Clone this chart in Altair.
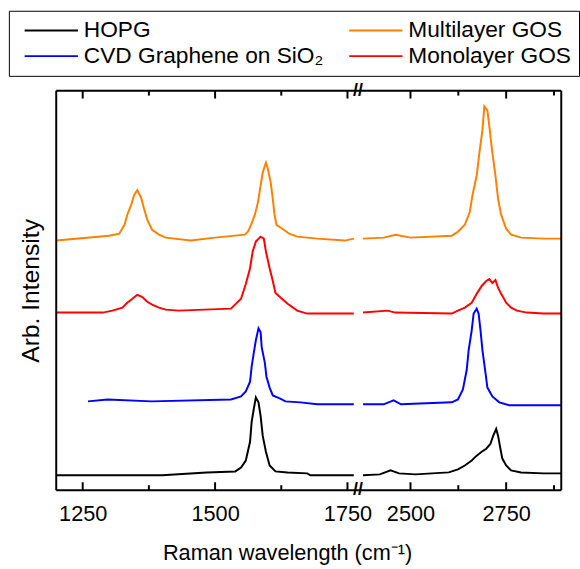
import altair as alt
import pandas as pd

SERIES = ["HOPG", "CVD Graphene on SiO₂", "Multilayer GOS", "Monolayer GOS"]
COLORS = ["#000000", "#0000FF", "#FF8000", "#FF0000"]

# ---- left segment (cm-1 1200-1770) ----
HOPG_L_X = [1200, 1300, 1400, 1484, 1538, 1549, 1558, 1566, 1569, 1573, 1577, 1582, 1586, 1590, 1596, 1603, 1614, 1637, 1674, 1680, 1762]
HOPG_L_Y = [15, 15, 15, 18, 19, 23, 30, 49, 69, 82, 94, 89, 75, 55, 39, 25, 19, 18, 17, 15, 15]

CVD_L_X = [1260, 1297, 1380, 1530, 1549, 1558, 1566, 1569, 1573, 1577, 1582, 1586, 1588, 1594, 1597, 1603, 1609, 1622, 1633, 1661, 1693, 1762]
CVD_L_Y = [90, 92, 90, 92, 95, 100, 110, 125, 139, 152, 164, 160, 145, 129, 115, 104, 96, 93, 90, 89, 87, 87]

MONO_L_X = [1200, 1288, 1306, 1325, 1334, 1344, 1353, 1362, 1372, 1381, 1394, 1407, 1431, 1530, 1549, 1558, 1566, 1571, 1577, 1586, 1592, 1596, 1603, 1609, 1614, 1624, 1637, 1655, 1674, 1693, 1762]
MONO_L_Y = [180, 180, 182, 185, 190, 194, 198, 196, 191, 188, 185, 183, 182, 184, 194, 209, 225, 242, 252, 257, 255, 242, 225, 212, 200, 195, 189, 182, 179, 179, 179]

MULTI_L_X = [1200, 1300, 1319, 1329, 1334, 1342, 1347, 1353, 1360, 1366, 1372, 1381, 1394, 1407, 1454, 1500, 1556, 1562, 1568, 1575, 1581, 1586, 1590, 1596, 1599, 1605, 1609, 1612, 1616, 1627, 1640, 1655, 1693, 1745, 1762]
MULTI_L_Y = [253, 258, 260, 269, 279, 290, 299, 304, 297, 285, 274, 264, 259, 256, 253, 256, 259, 262, 269, 279, 292, 309, 322, 332, 327, 312, 295, 280, 269, 265, 260, 257, 255, 253, 255]

# ---- right segment (cm-1 2363-2894) ----
HOPG_R_X = [2376, 2420, 2448, 2470, 2513, 2600, 2624, 2642, 2660, 2673, 2686, 2698, 2709, 2716, 2724, 2729, 2735, 2740, 2750, 2763, 2789, 2848, 2894]
HOPG_R_Y = [15, 16, 20, 17, 16, 18, 21, 25, 30, 35, 39, 42, 47, 55, 62, 55, 42, 32, 25, 20, 18, 17, 17]

CVD_R_X = [2376, 2430, 2456, 2475, 2608, 2624, 2637, 2647, 2652, 2660, 2665, 2673, 2678, 2683, 2688, 2696, 2701, 2714, 2732, 2758, 2848, 2894]
CVD_R_Y = [87, 87, 91, 87, 89, 92, 102, 122, 142, 162, 179, 184, 179, 162, 142, 119, 104, 95, 89, 86, 86, 86]

MONO_R_X = [2376, 2440, 2460, 2608, 2624, 2642, 2660, 2673, 2686, 2698, 2706, 2714, 2722, 2729, 2737, 2750, 2763, 2778, 2804, 2848, 2894]
MONO_R_Y = [180, 182, 180, 179, 182, 185, 190, 199, 207, 212, 214, 210, 213, 205, 199, 190, 185, 182, 180, 179, 179]

MULTI_R_X = [2376, 2430, 2461, 2500, 2608, 2624, 2642, 2655, 2662, 2673, 2680, 2688, 2693, 2701, 2706, 2714, 2722, 2729, 2737, 2750, 2763, 2789, 2848, 2894]
MULTI_R_Y = [255, 256, 259, 256, 258, 262, 269, 282, 299, 319, 342, 365, 389, 385, 369, 342, 319, 295, 279, 265, 259, 256, 255, 255]

LEFT_DOMAIN = [1200, 1770]
RIGHT_DOMAIN = [2363, 2894]
LEFT_MAJOR = [1250, 1500, 1750]
LEFT_MINOR = [1375, 1625]
RIGHT_MAJOR = [2500, 2750]
RIGHT_MINOR = [2625, 2875]
Y_DOMAIN = [0, 405]

FONT = "Liberation Sans"
W1, W2, H = 306, 206, 405
MAJOR_LEN, MINOR_LEN = 8, 5


def spectra_df(items):
    rows = []
    for name, xs, ys in items:
        for i, (x, y) in enumerate(zip(xs, ys)):
            rows.append({"series": name, "x": x, "y": y, "i": i})
    return pd.DataFrame(rows)


left_df = spectra_df([
    ("HOPG", HOPG_L_X, HOPG_L_Y),
    ("CVD Graphene on SiO₂", CVD_L_X, CVD_L_Y),
    ("Monolayer GOS", MONO_L_X, MONO_L_Y),
    ("Multilayer GOS", MULTI_L_X, MULTI_L_Y),
])
right_df = spectra_df([
    ("HOPG", HOPG_R_X, HOPG_R_Y),
    ("CVD Graphene on SiO₂", CVD_R_X, CVD_R_Y),
    ("Monolayer GOS", MONO_R_X, MONO_R_Y),
    ("Multilayer GOS", MULTI_R_X, MULTI_R_Y),
])

legend = alt.Legend(
    title=None, orient="none", legendX=-48, legendY=-81, columns=2,
    symbolType="stroke", symbolSize=2916, symbolStrokeWidth=2,
    clipHeight=24, rowPadding=2, columnPadding=18, padding=8,
    symbolOffset=7, labelOffset=5, labelFont=FONT, labelFontSize=23,
    labelColor="black", labelLimit=400, strokeColor="black",
)

color = alt.Color("series:N", scale=alt.Scale(domain=SERIES, range=COLORS), legend=legend)
one = alt.Data(values=[{"a": 0}])


def panel(df, domain, major, minor, width, is_left):
    xscale = alt.Scale(domain=domain, nice=False, zero=False)
    yscale = alt.Scale(domain=Y_DOMAIN, nice=False, zero=False)
    common = dict(values=major, format="d", ticks=False, tickSize=0, domain=False, grid=False,
                  labelFont=FONT, labelFontSize=22, labelColor="black",
                  labelPadding=31, labelBaseline="alphabetic")
    if is_left:
        xaxis = alt.Axis(title="Raman wavelength (cm⁻¹)", titleFont=FONT, titleFontSize=22,
                         titleFontWeight="normal", titleColor="black", titleX=234, titleY=70,
                         titleAlign="center", titleBaseline="alphabetic", **common)
        yaxis = alt.Axis(labels=False, ticks=False, domain=False, grid=False,
                         title="Arb. Intensity", titleFont=FONT, titleFontSize=25,
                         titleFontWeight="normal", titlePadding=13, titleColor="black")
    else:
        xaxis = alt.Axis(title=None, **common)
        yaxis = None

    lines = alt.Chart(df).mark_line(strokeWidth=2).encode(
        x=alt.X("x:Q", scale=xscale, axis=xaxis),
        y=alt.Y("y:Q", scale=yscale, axis=yaxis),
        color=color,
        detail="series:N",
        order="i:Q",
    )

    tx = alt.X("x:Q", scale=xscale, axis=xaxis)
    ticks = []
    for vals, ln in ((major, MAJOR_LEN), (minor, MINOR_LEN)):
        tk = alt.Chart(pd.DataFrame({"x": vals})).mark_tick(
            color="black", thickness=2, size=ln, orient="vertical", opacity=1)
        ticks.append(tk.encode(x=tx, y=alt.value(ln / 2)))
        ticks.append(tk.encode(x=tx, y=alt.value(H - ln / 2)))

    fr = alt.Chart(one).mark_rule(color="black", strokeWidth=2)
    frame = [
        fr.encode(x=alt.value(0), x2=alt.value(width), y=alt.value(0)),
        fr.encode(x=alt.value(0), x2=alt.value(width), y=alt.value(H)),
    ]
    if is_left:
        frame.append(fr.encode(x=alt.value(0), y=alt.value(0), y2=alt.value(H)))
        brk = alt.Chart(one).mark_text(text="//", fontSize=18, fontWeight="bold", font=FONT,
                                       align="center", baseline="middle", color="black")
        frame.append(brk.encode(x=alt.value(width), y=alt.value(0)))
        frame.append(brk.encode(x=alt.value(width), y=alt.value(H)))
    else:
        frame.append(fr.encode(x=alt.value(width), y=alt.value(0), y2=alt.value(H)))

    return alt.layer(lines, *ticks, *frame).properties(width=width, height=H)


left = panel(left_df, LEFT_DOMAIN, LEFT_MAJOR, LEFT_MINOR, W1, True)
right = panel(right_df, RIGHT_DOMAIN, RIGHT_MAJOR, RIGHT_MINOR, W2, False)

chart = alt.hconcat(left, right, spacing=0, bounds="flush").resolve_scale(
    x="independent", y="shared", color="shared"
).properties(
    padding={"left": 8, "top": 6, "right": 0, "bottom": 0}
).configure_view(stroke=None)

chart.save("out.html", embed_options={"renderer": "svg", "actions": False})
